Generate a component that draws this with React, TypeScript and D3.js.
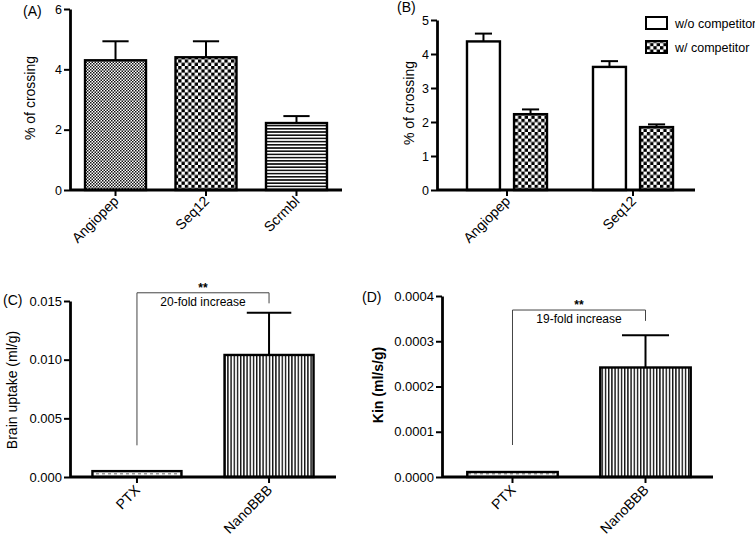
import { useEffect, useRef } from "react";
import * as d3 from "d3";

// Panel A
const aCategories = ["Angiopep", "Seq12", "Scrmbl"];
const aMeans = [4.3, 4.4, 2.22];
const aErrors = [0.63, 0.53, 0.23];
const aTicks = [0, 2, 4, 6];

// Panel B
const bCategories = ["Angiopep", "Seq12"];
const bSeries = ["w/o competitor", "w/ competitor"];
const bWithout = [4.37, 3.62];
const bWithoutErr = [0.23, 0.17];
const bWith = [2.23, 1.85];
const bWithErr = [0.14, 0.08];
const bTicks = [0, 1, 2, 3, 4, 5];

// Panel C
const cCategories = ["PTX", "NanoBBB"];
const cMeans = [0.0005, 0.0104];
const cErrors = [0, 0.0036];
const cTicks = [0, 0.005, 0.01, 0.015];
const cBracket = [0.0027, 0.0157, 0.0148];

// Panel D
const dCategories = ["PTX", "NanoBBB"];
const dMeans = [0.000011, 0.000242];
const dErrors = [0, 0.000071];
const dTicks = [0, 0.0001, 0.0002, 0.0003, 0.0004];
const dBracket = [0.0000707, 0.000369, 0.000345];

const FONT = "'Liberation Sans', Arial, sans-serif";

function addPatterns(defs) {
  const fine = defs.append("pattern").attr("id", "fineCheck")
    .attr("patternUnits", "userSpaceOnUse").attr("width", 3).attr("height", 3);
  fine.append("rect").attr("width", 3).attr("height", 3).attr("fill", "#fff");
  fine.append("rect").attr("width", 1.5).attr("height", 1.5).attr("fill", "#111");
  fine.append("rect").attr("x", 1.5).attr("y", 1.5).attr("width", 1.5).attr("height", 1.5).attr("fill", "#111");

  const big = defs.append("pattern").attr("id", "bigCheck")
    .attr("patternUnits", "userSpaceOnUse").attr("width", 6.6).attr("height", 6.6);
  big.append("rect").attr("width", 6.6).attr("height", 6.6).attr("fill", "#fff");
  big.append("rect").attr("width", 3.3).attr("height", 3.3).attr("fill", "#000");
  big.append("rect").attr("x", 3.3).attr("y", 3.3).attr("width", 3.3).attr("height", 3.3).attr("fill", "#000");

  const h = defs.append("pattern").attr("id", "hStripes")
    .attr("patternUnits", "userSpaceOnUse").attr("width", 4).attr("height", 3.2);
  h.append("rect").attr("width", 4).attr("height", 3.2).attr("fill", "#fff");
  h.append("rect").attr("width", 4).attr("height", 1.6).attr("fill", "#111");

  const v = defs.append("pattern").attr("id", "vStripes")
    .attr("patternUnits", "userSpaceOnUse").attr("width", 3.2).attr("height", 4);
  v.append("rect").attr("width", 3.2).attr("height", 4).attr("fill", "#fff");
  v.append("rect").attr("width", 1.4).attr("height", 4).attr("fill", "#111");

  const dots = defs.append("pattern").attr("id", "dotted")
    .attr("patternUnits", "userSpaceOnUse").attr("width", 6).attr("height", 4);
  dots.append("rect").attr("width", 6).attr("height", 4).attr("fill", "#fff");
  dots.append("rect").attr("y", 1).attr("width", 3).attr("height", 1.5).attr("fill", "#999");
}

function yAxis(g, y, x0, ticks, fmt, size) {
  g.append("g")
    .attr("transform", `translate(${x0},0)`)
    .call(d3.axisLeft(y).tickValues(ticks).tickFormat(fmt).tickSize(6).tickSizeOuter(0).tickPadding(2))
    .call((a) => a.select(".domain").attr("stroke", "#000").attr("stroke-width", 2.8))
    .call((a) => a.selectAll(".tick line").attr("stroke", "#000").attr("stroke-width", 2))
    .call((a) =>
      a.selectAll(".tick text").attr("fill", "#000").attr("font-size", size).attr("font-family", FONT)
    );
}

function xAxis(g, x, x0, x1, y0, cats, size, dy) {
  g.append("line").attr("x1", x0).attr("x2", x1).attr("y1", y0).attr("y2", y0)
    .attr("stroke", "#000").attr("stroke-width", 2.8);
  cats.forEach((c) => {
    const cx = x(c) + x.bandwidth() / 2;
    g.append("line").attr("x1", cx).attr("x2", cx).attr("y1", y0).attr("y2", y0 + 6)
      .attr("stroke", "#000").attr("stroke-width", 2);
    g.append("text")
      .attr("transform", `translate(${cx + 4},${y0 + dy}) rotate(-45)`)
      .attr("text-anchor", "end")
      .attr("font-size", size)
      .attr("font-family", FONT)
      .text(c);
  });
}

function bar(g, x, w, y, v, e, fill, y0, capFrac) {
  g.append("rect").attr("x", x).attr("width", w).attr("y", y(v)).attr("height", y0 - y(v))
    .attr("fill", fill).attr("stroke", "#000").attr("stroke-width", 2.4);
  if (e > 0) {
    const cx = x + w / 2;
    const cw = w * capFrac;
    g.append("line").attr("x1", cx).attr("x2", cx).attr("y1", y(v)).attr("y2", y(v + e))
      .attr("stroke", "#000").attr("stroke-width", 2);
    g.append("line").attr("x1", cx - cw).attr("x2", cx + cw).attr("y1", y(v + e)).attr("y2", y(v + e))
      .attr("stroke", "#000").attr("stroke-width", 2);
  }
}

function label(g, text, x, y, size, opts = {}) {
  const t = g.append("text").attr("x", x).attr("y", y).attr("font-size", size)
    .attr("font-family", FONT).attr("fill", "#000").text(text);
  if (opts.anchor) t.attr("text-anchor", opts.anchor);
  if (opts.rotate) t.attr("transform", `rotate(-90,${x},${y})`);
  if (opts.weight) t.attr("font-weight", opts.weight);
  return t;
}

function bracket(g, y, xa, xb, vals, text) {
  const [from, top, to] = vals;
  g.append("path")
    .attr("d", `M${xa},${y(from)}V${y(top)}H${xb}V${y(to)}`)
    .attr("fill", "none").attr("stroke", "#444").attr("stroke-width", 1);
  const mid = (xa + xb) / 2;
  label(g, "**", mid, y(top) - 1, 12, { anchor: "middle", weight: "bold" });
  label(g, text, mid, y(top) + 13, 12, { anchor: "middle" });
}

export default function App() {
  const ref = useRef(null);

  useEffect(() => {
    const svg = d3.select(ref.current);
    svg.selectAll("*").remove();
    addPatterns(svg.append("defs"));
    const g = svg.append("g");

    // (A)
    {
      const y = d3.scaleLinear().domain([0, 6]).range([190, 9]);
      const x = d3.scaleBand().domain(aCategories).range([70, 342]).paddingInner(0.326).paddingOuter(0.166);
      const fills = ["url(#fineCheck)", "url(#bigCheck)", "url(#hStripes)"];
      aCategories.forEach((c, i) => bar(g, x(c), x.bandwidth(), y, aMeans[i], aErrors[i], fills[i], 190, 0.215));
      xAxis(g, x, 70, 342, 190, aCategories, 14, 12);
      yAxis(g, y, 70, aTicks, d3.format("d"), 12.5);
      label(g, "% of crossing", 35, 98, 14, { anchor: "middle", rotate: true });
      label(g, "(A)", 23, 16, 14);
    }

    // (B)
    {
      const y = d3.scaleLinear().domain([0, 5]).range([190, 20]);
      const x = d3.scaleBand().domain(bCategories).range([437, 703]).paddingInner(0.365).paddingOuter(0.238);
      const xs = d3.scaleBand().domain(bSeries).range([0, x.bandwidth()]).paddingInner(0.3);
      bCategories.forEach((c, i) => {
        bar(g, x(c) + xs(bSeries[0]), xs.bandwidth(), y, bWithout[i], bWithoutErr[i], "#fff", 190, 0.26);
        bar(g, x(c) + xs(bSeries[1]), xs.bandwidth(), y, bWith[i], bWithErr[i], "url(#bigCheck)", 190, 0.26);
      });
      xAxis(g, x, 437, 695, 190, bCategories, 14, 12);
      yAxis(g, y, 437, bTicks, d3.format("d"), 12.5);
      label(g, "% of crossing", 414, 103, 14, { anchor: "middle", rotate: true });
      label(g, "(B)", 397, 12, 14);
      const fills = ["#fff", "url(#bigCheck)"];
      bSeries.forEach((s, i) => {
        g.append("rect").attr("x", 646).attr("y", 17 + i * 24).attr("width", 21).attr("height", 12)
          .attr("fill", fills[i]).attr("stroke", "#000").attr("stroke-width", 2);
        label(g, s, 675, 28 + i * 24, 12.5);
      });
    }

    // (C)
    {
      const y = d3.scaleLinear().domain([0, 0.015]).range([477, 301]);
      const x = d3.scaleBand().domain(cCategories).range([70, 336]).paddingInner(0.326).paddingOuter(0.17);
      const fills = ["url(#dotted)", "url(#vStripes)"];
      cCategories.forEach((c, i) => bar(g, x(c), x.bandwidth(), y, cMeans[i], cErrors[i], fills[i], 477, 0.25));
      xAxis(g, x, 70, 336, 477, cCategories, 14, 14);
      yAxis(g, y, 70, cTicks, d3.format(".3f"), 13);
      label(g, "Brain uptake (ml/g)", 17, 390, 14, { anchor: "middle", rotate: true });
      label(g, "(C)", 3, 305, 14);
      const c0 = x(cCategories[0]) + x.bandwidth() / 2;
      const c1 = x(cCategories[1]) + x.bandwidth() / 2;
      bracket(g, y, c0, c1, cBracket, "20-fold increase");
    }

    // (D)
    {
      const y = d3.scaleLinear().domain([0, 0.0004]).range([477, 296]);
      const x = d3.scaleBand().domain(dCategories).range([442, 716]).paddingInner(0.32).paddingOuter(0.19);
      const fills = ["url(#dotted)", "url(#vStripes)"];
      dCategories.forEach((c, i) => bar(g, x(c), x.bandwidth(), y, dMeans[i], dErrors[i], fills[i], 477, 0.26));
      xAxis(g, x, 442, 713, 477, dCategories, 14, 14);
      yAxis(g, y, 442, dTicks, d3.format(".4f"), 13);
      label(g, "Kin (ml/s/g)", 383, 385, 14, { anchor: "middle", rotate: true, weight: "bold" });
      label(g, "(D)", 362, 302, 14);
      const c0 = x(dCategories[0]) + x.bandwidth() / 2;
      const c1 = x(dCategories[1]) + x.bandwidth() / 2;
      bracket(g, y, c0, c1, dBracket, "19-fold increase");
    }
  }, []);

  return (
    <div style={{ position: "absolute", left: 0, top: 0 }}>
      <svg ref={ref} width={755} height={539} style={{ display: "block", background: "#fff" }} />
    </div>
  );
}
